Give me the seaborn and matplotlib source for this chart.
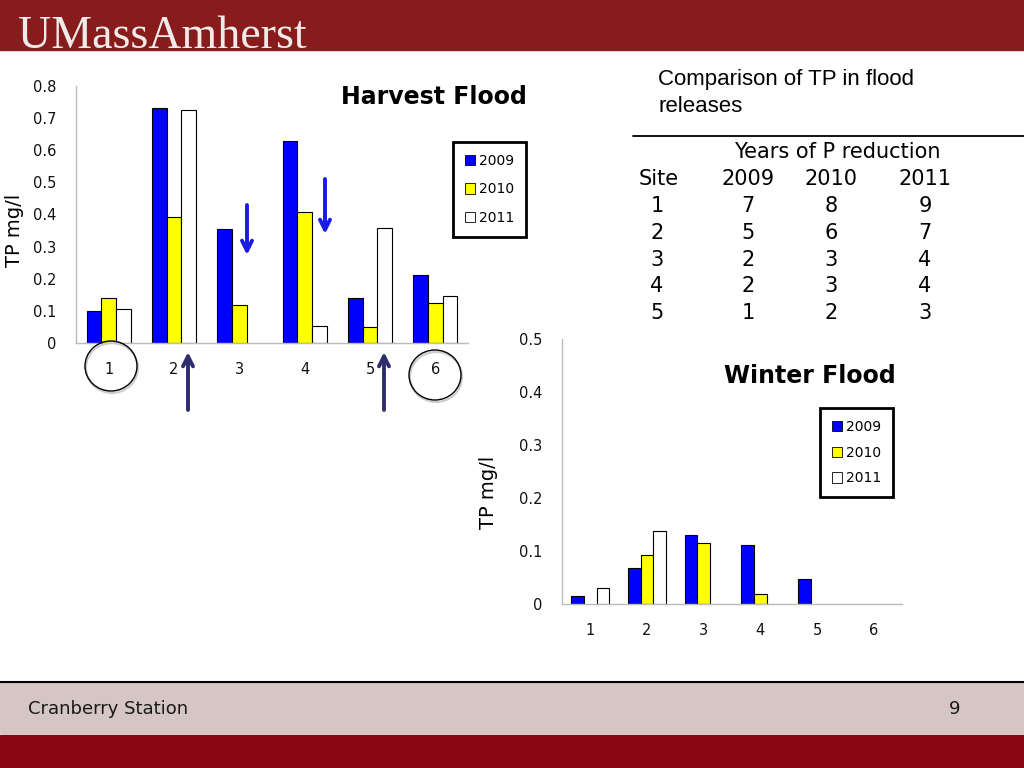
import seaborn as sns
import pandas as pd
import numpy as np
import matplotlib.pyplot as plt
from matplotlib.patches import Patch, Rectangle, Ellipse, FancyArrowPatch
from matplotlib.lines import Line2D

sites = ["1", "2", "3", "4", "5", "6"]
years = ["2009", "2010", "2011"]
year_colors = ["#0000FF", "#FFFF00", "#FFFFFF"]

harvest_2009 = [0.100, 0.732, 0.355, 0.628, 0.141, 0.213]
harvest_2010 = [0.139, 0.392, 0.117, 0.409, 0.050, 0.123]
harvest_2011 = [0.105, 0.725, np.nan, 0.052, 0.357, 0.146]

winter_2009 = [0.016, 0.067, 0.131, 0.111, 0.048, np.nan]
winter_2010 = [np.nan, 0.093, 0.116, 0.019, np.nan, np.nan]
winter_2011 = [0.030, 0.138, np.nan, np.nan, np.nan, np.nan]

harvest_ticks = [0, 0.1, 0.2, 0.3, 0.4, 0.5, 0.6, 0.7, 0.8]
harvest_ticklabels = ["0", "0.1", "0.2", "0.3", "0.4", "0.5", "0.6", "0.7", "0.8"]
winter_ticks = [0, 0.1, 0.2, 0.3, 0.4, 0.5]
winter_ticklabels = ["0", "0.1", "0.2", "0.3", "0.4", "0.5"]

# tabla de años de reduccion de P
table_sites = ["1", "2", "3", "4", "5"]
red_2009 = [7, 5, 2, 2, 1]
red_2010 = [8, 6, 3, 3, 2]
red_2011 = [9, 7, 4, 4, 3]


def long_df(v09, v10, v11):
    return pd.DataFrame({
        "site": sites * 3,
        "year": [y for y in years for _ in sites],
        "tp": list(v09) + list(v10) + list(v11),
    }).dropna()


harvest = long_df(harvest_2009, harvest_2010, harvest_2011)
winter = long_df(winter_2009, winter_2010, winter_2011)

sns.set_style("white")
plt.rcParams['font.family'] = ['DejaVu Sans']
plt.rcParams['text.color'] = 'black'
plt.rcParams['axes.labelcolor'] = 'black'

W, H = 1024, 768
fig = plt.figure(figsize=(W / 100, H / 100), dpi=100)


def fx(x):
    return x / W


def fy(y):
    return 1 - y / H


def rect(l, t, r, b):
    return [fx(l), fy(b), (r - l) / W, (b - t) / H]


def bar_panel(ax, df, ticks, ticklabels, ylim):
    sns.barplot(data=df, x="site", y="tp", hue="year", order=sites,
                hue_order=years, palette=year_colors, saturation=1,
                width=0.675, gap=0, edgecolor="black", linewidth=0.8,
                errorbar=None, legend=False, ax=ax)
    ax.set_xlim(-0.5, 5.5)
    ax.set_ylim(*ylim)
    ax.set_yticks(ticks)
    ax.set_yticklabels(ticklabels)
    ax.set_xticks(np.arange(6))
    ax.set_xticklabels(sites)
    ax.set_xticks(np.arange(-0.5, 6, 1), minor=True)
    ax.tick_params(axis="x", which="major", length=0, pad=14, labelsize=10.5, labelcolor="#111111")
    ax.tick_params(axis="x", which="minor", length=5, color="#BBBBBB", direction="out")
    ax.tick_params(axis="y", length=4, color="#BBBBBB", pad=10, labelsize=10.5, labelcolor="#111111")
    ax.set_xlabel("")
    sns.despine(ax=ax)
    for s in ["left", "bottom"]:
        ax.spines[s].set_color("#BBBBBB")
        ax.spines[s].set_linewidth(1)


def year_legend(ax, left, top, spacing):
    handles = [Patch(facecolor=c, edgecolor="black", linewidth=0.6) for c in year_colors]
    leg = ax.legend(handles, years, loc="upper left", bbox_to_anchor=(fx(left), fy(top)),
                    bbox_transform=fig.transFigure, borderaxespad=0, fontsize=10,
                    handlelength=0.75, handleheight=0.75, handletextpad=0.3,
                    labelspacing=spacing, borderpad=0.85, fancybox=False, framealpha=1)
    leg.get_frame().set_edgecolor("black")
    leg.get_frame().set_linewidth(2)


# panel de cosecha
ax1 = fig.add_axes(rect(76, 86, 468, 343))
bar_panel(ax1, harvest, harvest_ticks, harvest_ticklabels, (0, 0.8))
ax1.set_ylabel("TP mg/l", fontsize=14, va="center")
ax1.yaxis.set_label_coords((15 - 76) / 392, (343 - 230) / 257)
year_legend(ax1, 453, 142, 1.05)
fig.text(fx(527), fy(97), "Harvest Flood", ha="right", va="center", fontsize=17, weight="bold")

# panel de invierno
ax2 = fig.add_axes(rect(562, 339, 902, 604))
bar_panel(ax2, winter, winter_ticks, winter_ticklabels, (0, 0.5))
ax2.set_ylabel("TP mg/l", fontsize=14, va="center")
ax2.yaxis.set_label_coords((488 - 562) / 340, (604 - 492) / 265)
year_legend(ax2, 820, 408, 0.85)
fig.text(fx(896), fy(376), "Winter Flood", ha="right", va="center", fontsize=17, weight="bold")

# encabezado y pie de la diapositiva
fig.add_artist(Rectangle((0, fy(50)), 1, 50 / H, transform=fig.transFigure, color="#881C1C", zorder=0))
fig.text(fx(18), fy(48), "UMassAmherst", family="Liberation Serif", fontsize=33,
         color="#F0EAE8", va="baseline")
fig.add_artist(Rectangle((0, fy(733)), 1, 50 / H, transform=fig.transFigure, color="#D5C5C5", zorder=0))
fig.add_artist(Rectangle((0, 0), 1, 33 / H, transform=fig.transFigure, color="#8A0514", zorder=0))
fig.add_artist(Line2D([0, 1], [fy(682), fy(682)], transform=fig.transFigure, color="black", linewidth=1.5))
fig.text(fx(28), fy(709), "Cranberry Station", fontsize=13, color="#1A1A1A", va="center")
fig.text(fx(955), fy(709), "9", fontsize=13, color="#1A1A1A", va="center", ha="center")

# tabla
fig.text(fx(658), fy(80), "Comparison of TP in flood", family="Liberation Sans", fontsize=16, va="center")
fig.text(fx(658), fy(107), "releases", family="Liberation Sans", fontsize=16, va="center")
fig.add_artist(Line2D([fx(633), 1], [fy(136), fy(136)], transform=fig.transFigure, color="black", linewidth=1.3))
fig.text(fx(837), fy(152), "Years of P reduction", fontsize=15, ha="center", va="center")
col_x = [659, 748, 831, 925]
for x, lab in zip(col_x, ["Site"] + years):
    fig.text(fx(x), fy(179), lab, fontsize=15, ha="center", va="center")
for i, s in enumerate(table_sites):
    y = 206 + i * 26.8
    row = [s, red_2009[i], red_2010[i], red_2011[i]]
    xs = [657] + col_x[1:]
    for x, v in zip(xs, row):
        fig.text(fx(x), fy(y), str(v), fontsize=15, ha="center", va="center")

# circulos y flechas
for cx, cy in [(111, 366), (435, 375)]:
    fig.add_artist(Ellipse((fx(cx + 1), fy(cy + 2)), 52 / W, 50 / H, transform=fig.transFigure,
                           fill=False, edgecolor="#CCCCCC", linewidth=1.5))
    fig.add_artist(Ellipse((fx(cx), fy(cy)), 52 / W, 50 / H, transform=fig.transFigure,
                           fill=False, edgecolor="black", linewidth=1))

arrows = [(247, 205, 255, "#1A1AE6"), (325, 179, 234, "#1A1AE6"),
          (188, 410, 352, "#2D2D6E"), (384, 410, 352, "#2D2D6E")]
for x, y0, y1, c in arrows:
    fig.add_artist(FancyArrowPatch((fx(x), fy(y0)), (fx(x), fy(y1)), transform=fig.transFigure,
                                   arrowstyle="->", mutation_scale=18, linewidth=2.8, color=c,
                                   shrinkA=0, shrinkB=0))

fig.savefig("out.png", dpi=100)
